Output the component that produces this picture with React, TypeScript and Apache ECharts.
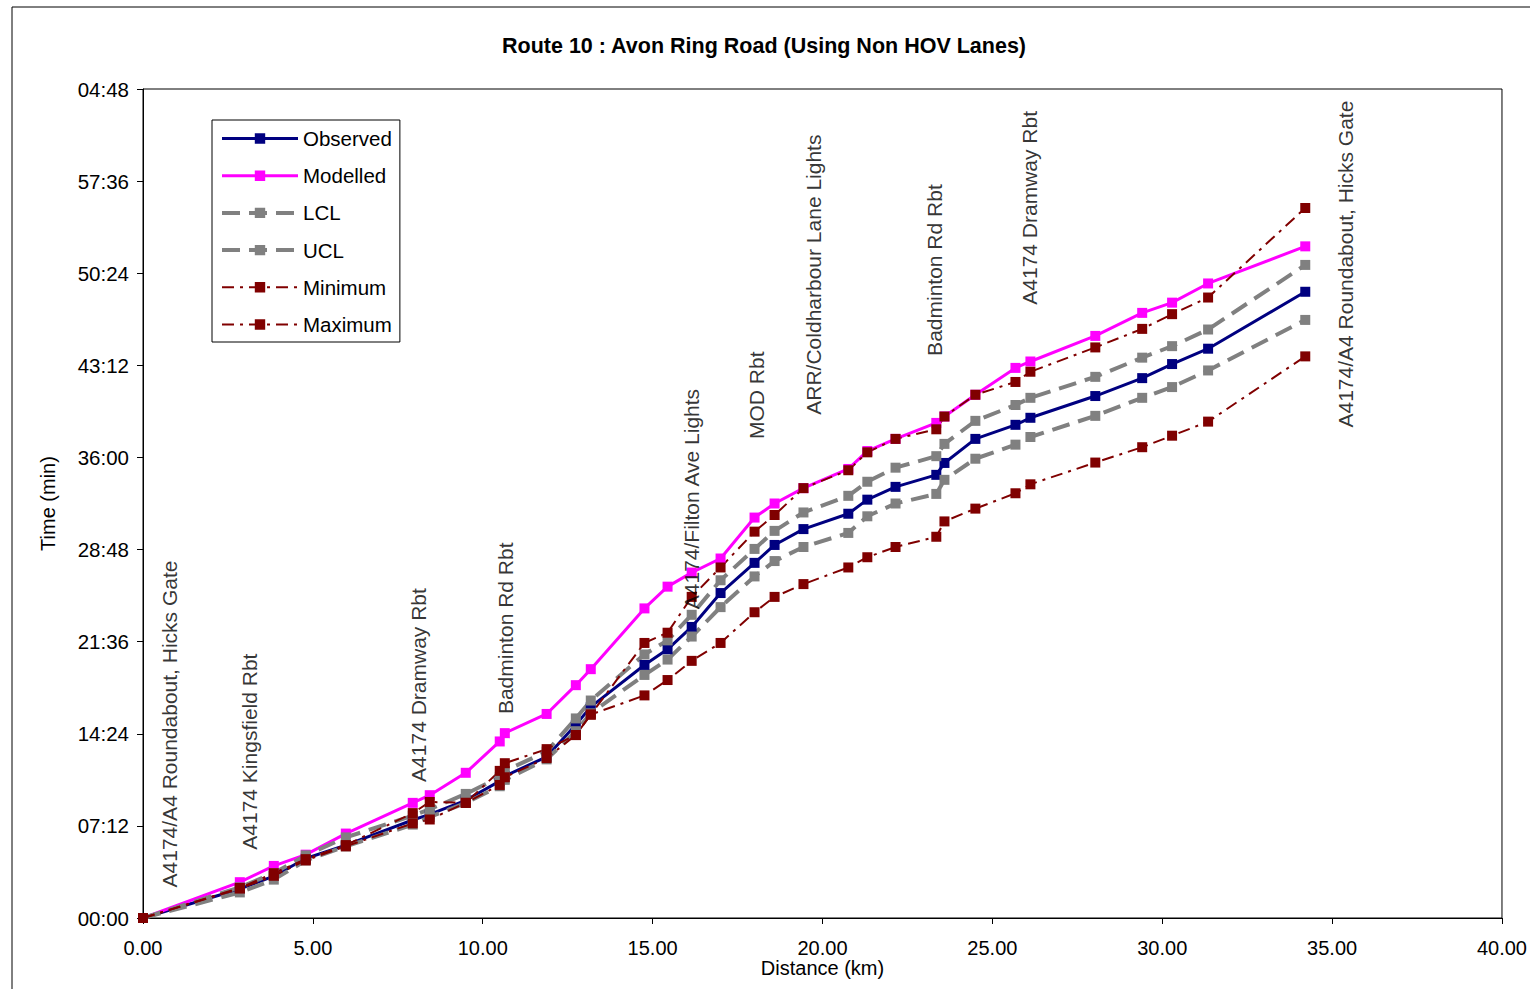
import React, { useEffect, useRef } from "react";
import * as echarts from "echarts";

const distanceKm = [0, 2.85, 3.85, 4.79, 5.97, 7.94, 8.44, 9.5, 10.5, 10.65, 11.88, 12.74, 13.18, 14.76, 15.44, 16.15, 17.0, 18.0, 18.59, 19.44, 20.76, 21.32, 22.15, 23.35, 23.59, 24.5, 25.68, 26.12, 28.03, 29.41, 30.29, 31.35, 34.21];
const observed = [0, 2.27, 3.28, 4.65, 5.7, 7.66, 8.1, 9.2, 10.7, 11.1, 12.6, 15.1, 16.5, 19.78, 21.0, 22.75, 25.4, 27.76, 29.16, 30.4, 31.6, 32.7, 33.7, 34.64, 35.57, 37.45, 38.55, 39.1, 40.8, 42.2, 43.3, 44.5, 48.95];
const modelled = [0, 2.8, 4.07, 4.95, 6.6, 9.0, 9.6, 11.35, 13.8, 14.45, 15.95, 18.2, 19.45, 24.2, 25.9, 27.0, 28.1, 31.3, 32.4, 33.6, 35.1, 36.5, 37.45, 38.7, 39.2, 40.9, 43.0, 43.5, 45.5, 47.3, 48.1, 49.6, 52.5];
const lcl = [0, 2.0, 3.0, 4.5, 5.6, 7.3, 7.9, 9.0, 10.3, 10.8, 12.4, 14.6, 16.0, 19.0, 20.2, 22.0, 24.3, 26.7, 27.9, 29.0, 30.1, 31.4, 32.4, 33.15, 34.25, 35.9, 37.0, 37.6, 39.25, 40.66, 41.5, 42.8, 46.75];
const ucl = [0, 2.4, 3.5, 4.9, 6.3, 8.0, 8.5, 9.7, 11.0, 11.5, 13.0, 15.6, 17.0, 20.6, 21.7, 23.7, 26.4, 28.85, 30.26, 31.7, 33.0, 34.1, 35.2, 36.1, 37.06, 38.86, 40.1, 40.66, 42.3, 43.8, 44.7, 46.0, 51.05];
const minimum = [0, 2.3, 3.3, 4.5, 5.6, 7.4, 7.7, 9.0, 10.4, 11.0, 12.5, 14.3, 15.9, 17.4, 18.6, 20.1, 21.5, 23.9, 25.1, 26.1, 27.4, 28.2, 29.0, 29.8, 31.0, 32.0, 33.2, 33.9, 35.6, 36.8, 37.7, 38.8, 43.9];
const maximum = [0, 2.35, 3.5, 4.6, 5.7, 8.2, 9.07, 9.0, 11.5, 12.1, 13.2, 14.3, 15.9, 21.5, 22.3, 25.1, 27.4, 30.2, 31.5, 33.6, 35.0, 36.4, 37.45, 38.2, 39.2, 40.9, 41.9, 42.7, 44.6, 46.05, 47.2, 48.5, 55.5];

const junctionNames = [
  "A4174/A4 Roundabout, Hicks Gate",
  "A4174 Kingsfield Rbt",
  "A4174 Dramway Rbt",
  "Badminton Rd Rbt",
  "A4174/Filton Ave Lights",
  "MOD Rbt",
  "ARR/Coldharbour Lane Lights",
  "Badminton Rd Rbt",
  "A4174 Dramway Rbt",
  "A4174/A4 Roundabout, Hicks Gate",
];
const junctionKm = [0.79, 3.15, 8.12, 10.68, 16.15, 18.06, 19.74, 23.3, 26.1, 35.4];
const junctionMin = [2.35, 5.3, 10.6, 15.9, 24.1, 37.4, 39.3, 43.9, 47.9, 38.3];

const yTickMax = 64.8;
const yTickStep = 7.2;
const xTickMax = 40;
const xTickStep = 5;

const FONT = "'Liberation Sans', Arial, sans-serif";

const pair = (ys: number[]) => distanceKm.map((x, i) => [x, ys[i]]);

const fmtTime = (v: number) => {
  const total = Math.round(v * 60);
  const m = Math.floor(total / 60) % 60;
  const s = total % 60;
  return String(m).padStart(2, "0") + ":" + String(s).padStart(2, "0");
};

export default function App() {
  const ref = useRef<HTMLDivElement>(null);
  useEffect(() => {
    if (!ref.current) return;
    const chart = echarts.init(ref.current, undefined, { renderer: "svg" });
    const lineSeries = (
      name: string,
      data: number[],
      color: string,
      width: number,
      type: any
    ) => ({
      name,
      type: "line",
      data: pair(data),
      symbol: "rect",
      symbolSize: 10,
      showSymbol: true,
      lineStyle: { color, width, type },
      itemStyle: { color, borderWidth: 0 },
      emphasis: { disabled: true },
    });
    chart.setOption({
      animation: false,
      textStyle: { fontFamily: FONT },
      title: {
        text: "Route 10 : Avon Ring Road (Using Non HOV Lanes)",
        left: 759,
        textAlign: "center",
        top: 30,
        textStyle: { fontFamily: FONT, fontSize: 21.5, fontWeight: "bold", color: "#000" },
      },
      graphic: [
        {
          type: "rect",
          shape: { x: 12, y: 7, width: 1540, height: 1000 },
          style: { fill: "none", stroke: "#000", lineWidth: 1 },
          silent: true,
          z: -10,
        },
      ],
      legend: {
        orient: "vertical",
        left: 212,
        top: 120,
        padding: [8, 8, 7, 8],
        itemWidth: 76,
        itemHeight: 13,
        itemGap: 16.2,
        borderColor: "#000",
        borderWidth: 1,
        backgroundColor: "#fff",
        lineStyle: { width: "inherit" },
        textStyle: { fontFamily: FONT, fontSize: 20.5, color: "#000" },
        data: ["Observed", "Modelled", "LCL", "UCL", "Minimum", "Maximum"],
      },
      grid: {
        left: 143,
        right: 27,
        top: 89,
        bottom: 71,
        show: true,
        borderColor: "#000",
        borderWidth: 1,
        backgroundColor: "transparent",
      },
      xAxis: {
        type: "value",
        min: 0,
        max: xTickMax,
        interval: xTickStep,
        name: "Distance (km)",
        nameLocation: "middle",
        nameGap: 40,
        nameMoveOverlap: false,
        nameTextStyle: { fontFamily: FONT, fontSize: 20, color: "#000" },
        axisLine: { onZero: false, lineStyle: { color: "#000", width: 1 } },
        axisTick: { show: true, length: 6, lineStyle: { color: "#000" } },
        axisLabel: {
          margin: 20,
          fontFamily: FONT,
          fontSize: 20,
          color: "#000",
          formatter: (v: number) => v.toFixed(2),
        },
        splitLine: { show: false },
      },
      yAxis: {
        type: "value",
        min: 0,
        max: yTickMax,
        interval: yTickStep,
        name: "Time (min)",
        nameLocation: "middle",
        nameGap: 85,
        nameMoveOverlap: false,
        nameTextStyle: { fontFamily: FONT, fontSize: 20, color: "#000" },
        axisLine: { show: true, lineStyle: { color: "#000", width: 1 } },
        axisTick: { show: true, length: 6, lineStyle: { color: "#000" } },
        axisLabel: {
          margin: 14,
          fontFamily: FONT,
          fontSize: 20.5,
          color: "#000",
          formatter: (v: number) => fmtTime(v),
        },
        splitLine: { show: false },
      },
      series: [
        lineSeries("Observed", observed, "#000080", 3, "solid"),
        lineSeries("Modelled", modelled, "#FF00FF", 3, "solid"),
        lineSeries("LCL", lcl, "#808080", 4, [18, 9]),
        lineSeries("UCL", ucl, "#808080", 4, [18, 9]),
        lineSeries("Minimum", minimum, "#800000", 2, [12, 6, 3, 6]),
        lineSeries("Maximum", maximum, "#800000", 2, [12, 6, 3, 6]),
        {
          name: "junctions",
          type: "scatter",
          symbol: "circle",
          symbolSize: 1,
          itemStyle: { color: "rgba(0,0,0,0)" },
          silent: true,
          z: 10,
          data: junctionKm.map((x, i) => ({ value: [x, junctionMin[i]], name: junctionNames[i] })),
          label: {
            show: true,
            position: [0, 0],
            rotate: 90,
            align: "left",
            verticalAlign: "middle",
            formatter: (p: any) => p.name,
            fontFamily: FONT,
            fontSize: 21,
            color: "#000",
          },
          labelLayout: { hideOverlap: false },
        },
      ],
    });
    return () => chart.dispose();
  }, []);
  return (
    <div
      ref={ref}
      style={{ position: "absolute", left: 0, top: 0, width: 1530, height: 989, background: "#fff" }}
    />
  );
}
